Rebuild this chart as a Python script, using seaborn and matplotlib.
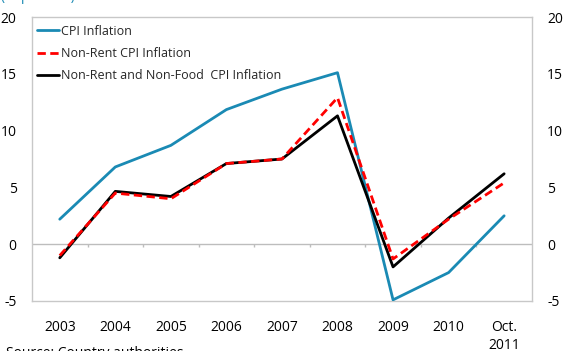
import numpy as np
import pandas as pd
import matplotlib
matplotlib.use("Agg")
import matplotlib.pyplot as plt
import seaborn as sns

categories = ["2003", "2004", "2005", "2006", "2007", "2008", "2009", "2010", "Oct.\n2011"]
cpi = [2.2, 6.8, 8.7, 11.85, 13.65, 15.1, -4.9, -2.5, 2.5]
non_rent = [-1.0, 4.5, 4.0, 7.1, 7.5, 12.9, -1.3, 2.2, 5.4]
non_rent_food = [-1.2, 4.65, 4.2, 7.1, 7.5, 11.3, -2.0, 2.3, 6.2]
y_ticks = [-5, 0, 5, 10, 15, 20]

sns.set_theme(style="white")
plt.rcParams["font.family"] = ["Open Sans", "DejaVu Sans"]

BLUE = "#1a8ab4"
RED = "#ff0000"

fig = plt.figure(figsize=(5.63, 3.51), dpi=100)
ax = fig.add_axes([0.0568, 0.1425, 0.888, 0.809])

x = np.arange(len(categories))
df = pd.DataFrame({"x": x, "cpi": cpi, "nr": non_rent, "nrf": non_rent_food})

ax.axhline(0, color="#bdbdbd", lw=1.0, zorder=1)
# small category separators hanging below the zero line
ax.vlines(np.arange(0.5, len(categories) - 1, 1.0), -0.28, 0, color="#bdbdbd", lw=1.0, zorder=1)

sns.lineplot(data=df, x="x", y="cpi", ax=ax, color=BLUE, lw=2.0, label="CPI Inflation", zorder=3)
sns.lineplot(data=df, x="x", y="nr", ax=ax, color=RED, lw=2.0, ls=(0, (3, 1.6)),
             label="Non-Rent CPI Inflation", zorder=4)
sns.lineplot(data=df, x="x", y="nrf", ax=ax, color="black", lw=2.0,
             label="Non-Rent and Non-Food  CPI Inflation", zorder=3)

ax.set_xlim(-0.5, len(categories) - 0.5)
ax.set_ylim(-5, 20)
ax.set_yticks(y_ticks)
ax.set_yticklabels([str(v) for v in y_ticks])
ax.set_xticks(x)
ax.set_xticklabels(categories, linespacing=1.25)
ax.set_xlabel("")
ax.set_ylabel("")
ax.tick_params(axis="both", length=0, labelsize=10, colors="black")
ax.tick_params(axis="y", pad=11)
ax.tick_params(axis="x", pad=14)
for lab in ax.get_yticklabels():
    lab.set_horizontalalignment("right")

for s in ax.spines.values():
    s.set_color("#c8c8c8")
    s.set_linewidth(1.0)

ax2 = ax.twinx()
ax2.set_ylim(-5, 20)
ax2.set_yticks(y_ticks)
ax2.set_yticklabels([str(v) for v in y_ticks])
ax2.tick_params(axis="y", length=0, labelsize=10, pad=11, colors="black")
for s in ax2.spines.values():
    s.set_visible(False)

leg = ax.legend(loc="upper left", frameon=False, fontsize=9, handlelength=1.8,
                handletextpad=0.1, labelspacing=0.75, borderaxespad=0.2,
                bbox_to_anchor=(-0.005, 1.0))

fig.text(0.002, 1.009, "(In percent)", color=BLUE, fontsize=10, va="center", ha="left")
fig.text(0.01, -0.006, "Source: Country authorities.", color="black", fontsize=10, va="center", ha="left")

fig.savefig("out.png", dpi=100)
